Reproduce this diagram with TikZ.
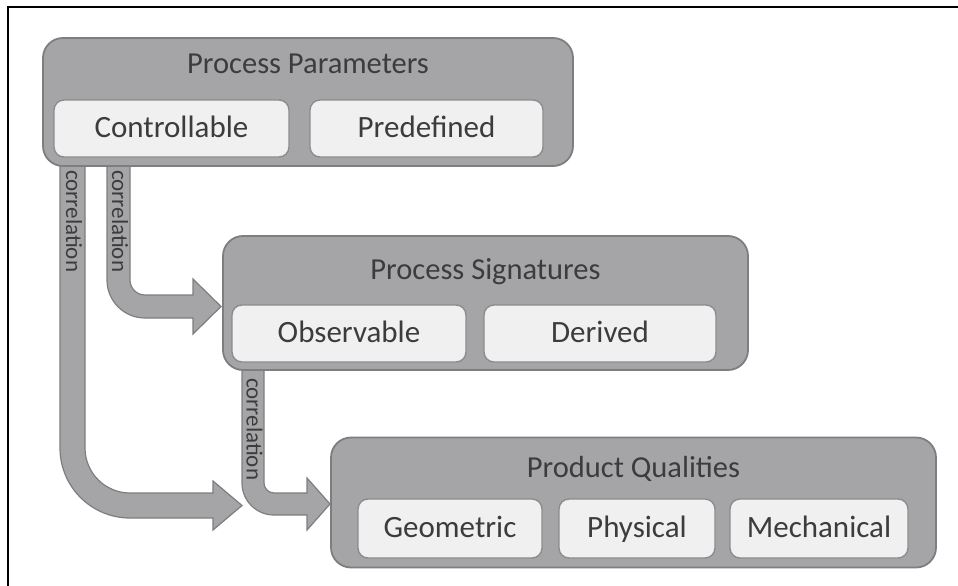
\documentclass[tikz,border=0pt]{standalone}
\usepackage{fontspec}
\setmainfont{Carlito}
\definecolor{groupfill}{HTML}{A5A5A8}
\definecolor{groupline}{HTML}{7E7E80}
\definecolor{itemfill}{HTML}{F0F0F0}
\definecolor{itemline}{HTML}{8C8C8E}
\definecolor{inktext}{HTML}{3C3C3C}
\begin{document}
\begin{tikzpicture}[x=1pt,y=-1pt,
  groupbox/.style={draw=groupline, fill=groupfill, line width=1.8pt,
    rounded corners=20pt, inner sep=0pt},
  itembox/.style={draw=itemline, fill=itemfill, line width=1.4pt,
    rounded corners=10pt, inner sep=0pt, text=inktext,
    text height=22pt, text depth=4pt,
    font=\fontsize{31}{34}\selectfont},
  grouptitle/.style={text=inktext, font=\fontsize{30.5}{34}\selectfont, inner sep=0pt,
    text height=22pt, text depth=4pt},
  flowband/.style={draw=groupline, fill=groupfill, line width=1.2pt, line join=miter},
  flowlabel/.style={rotate=-90, anchor=west, text=inktext,
    font=\fontsize{23}{26}\selectfont, inner sep=0pt}]
\useasboundingbox (0,0) rectangle (958,586);

% page frame (top and left rules)
\draw[line width=1.6pt] (958,7) -- (8,7) -- (8,586);

% correlation arrows: Process Parameters -> Product Qualities (long)
\path[flowband] (60,150) -- (60,448) arc[start angle=180,end angle=90,radius=70]
  -- (213,518) -- (213,530) -- (242,505.5) -- (213,481) -- (213,493)
  -- (130,493) arc[start angle=90,end angle=180,radius=45] -- (85,150) -- cycle;
% Process Parameters -> Process Signatures
\path[flowband] (107,150) -- (107,280) arc[start angle=180,end angle=90,radius=38]
  -- (193,318) -- (193,334) -- (221,306.5) -- (193,279) -- (193,295)
  -- (145,295) arc[start angle=90,end angle=180,radius=15] -- (130,150) -- cycle;
% Process Signatures -> Product Qualities
\path[flowband] (242,355) -- (242,483) arc[start angle=180,end angle=90,radius=32]
  -- (307,515) -- (307,530) -- (330,504) -- (307,478) -- (307,493)
  -- (274,493) arc[start angle=90,end angle=180,radius=10] -- (264,355) -- cycle;

\node[flowlabel] (l1) at (74,170) {correlation};
\node[flowlabel] (l2) at (120,170) {correlation};
\node[flowlabel] (l3) at (254.5,378) {correlation};

% Process Parameters
\node[groupbox, minimum width=530pt, minimum height=128pt] (pp) at (308,102) {};
\node[grouptitle] (ppt) at (308,65) {Process Parameters};
\node[itembox, minimum width=235pt, minimum height=57pt] (ctrl) at (171.5,128.5) {Controllable};
\node[itembox, minimum width=233pt, minimum height=57pt] (pred) at (426.5,128.5) {Predefined};

% Process Signatures
\node[groupbox, minimum width=525pt, minimum height=134pt] (ps) at (485.5,303) {};
\node[grouptitle] (pst) at (485.5,270) {Process Signatures};
\node[itembox, minimum width=234pt, minimum height=57pt] (obs) at (349,333.5) {Observable};
\node[itembox, minimum width=232pt, minimum height=57pt] (der) at (600,333.5) {Derived};

% Product Qualities
\node[groupbox, minimum width=605pt, minimum height=130pt] (pq) at (633.5,502.5) {};
\node[grouptitle] (pqt) at (633.5,468) {Product Qualities};
\node[itembox, minimum width=184pt, minimum height=59pt] (geo) at (450,528.5) {Geometric};
\node[itembox, minimum width=156pt, minimum height=59pt] (phy) at (637,528.5) {Physical};
\node[itembox, minimum width=178pt, minimum height=59pt] (mech) at (819,528.5) {Mechanical};
\end{tikzpicture}
\end{document}
